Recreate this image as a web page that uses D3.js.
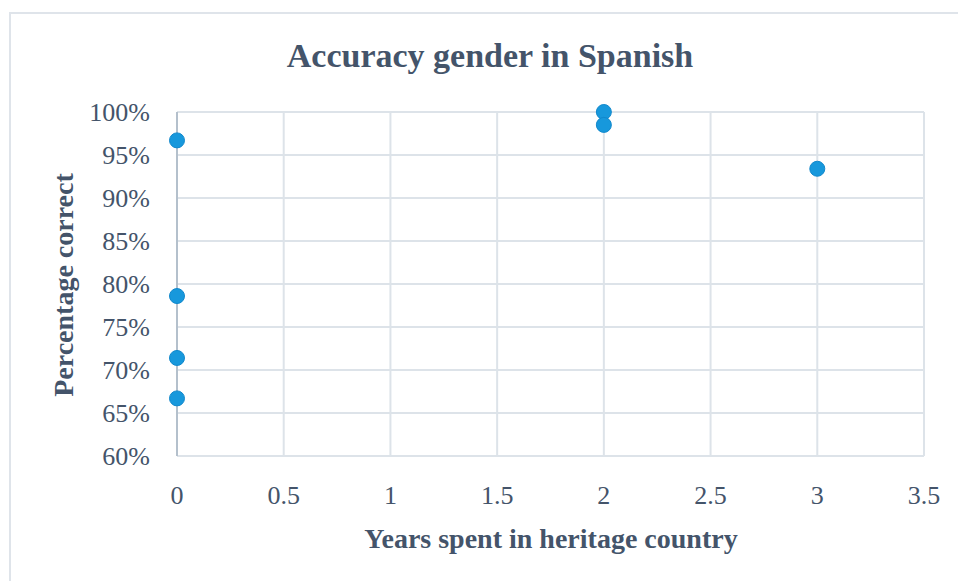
<!DOCTYPE html>
<html>
<head>
<meta charset="utf-8">
<script src="https://cdn.jsdelivr.net/npm/d3@7"></script>
<style>
  body { margin: 0; background: #fff; }
  text { font-family: "Palatino Linotype", "Book Antiqua", Palatino, "Liberation Serif", serif; fill: #44546a; }
</style>
</head>
<body>
<div class="canvas"></div>
<script>
// data
const years = [0, 0, 0, 0, 2, 2, 3];
const correct = [96.7, 78.6, 71.4, 66.7, 100, 98.5, 93.4];
const xTicks = [0, 0.5, 1, 1.5, 2, 2.5, 3, 3.5];
const yTicks = [60, 65, 70, 75, 80, 85, 90, 95, 100];

const width = 958, height = 581;
const margin = {top: 112, right: 34, bottom: 125, left: 177};

const svg = d3.select(".canvas")
              .append("svg")
              .attr("width", width)
              .attr("height", height);

// chart frame (only top and left edges fall inside the picture)
svg.append("rect")
   .attr("x", 10).attr("y", 13)
   .attr("width", 960).attr("height", 580)
   .attr("fill", "#fff")
   .attr("stroke", "#dfe4ea")
   .attr("stroke-width", 2);

const x = d3.scaleLinear()
            .domain([0, 3.5])
            .range([margin.left, width - margin.right]);

const y = d3.scaleLinear()
            .domain([60, 100])
            .range([height - margin.bottom, margin.top]);

// gridlines
svg.append("g")
   .selectAll("line.h")
   .data(yTicks)
   .enter()
   .append("line")
   .attr("x1", x(0)).attr("x2", x(3.5))
   .attr("y1", d => y(d)).attr("y2", d => y(d))
   .attr("stroke", "#dde3e9").attr("stroke-width", 2);

svg.append("g")
   .selectAll("line.v")
   .data(xTicks.slice(1))
   .enter()
   .append("line")
   .attr("x1", d => x(d)).attr("x2", d => x(d))
   .attr("y1", y(60)).attr("y2", y(100))
   .attr("stroke", "#dde3e9").attr("stroke-width", 2);

// vertical axis line at x = 0
svg.append("line")
   .attr("x1", x(0)).attr("x2", x(0))
   .attr("y1", y(60)).attr("y2", y(100))
   .attr("stroke", "#b4c0cc").attr("stroke-width", 2);

// tick labels
svg.append("g")
   .selectAll("text")
   .data(yTicks)
   .enter()
   .append("text")
   .attr("x", 150)
   .attr("y", d => y(d))
   .attr("dy", "0.35em")
   .attr("text-anchor", "end")
   .style("font-size", "26px")
   .text(d => d + "%");

svg.append("g")
   .selectAll("text")
   .data(xTicks)
   .enter()
   .append("text")
   .attr("x", d => x(d))
   .attr("y", 504)
   .attr("text-anchor", "middle")
   .style("font-size", "26px")
   .text(d => d);

// titles
svg.append("text")
   .attr("x", 490).attr("y", 67)
   .attr("text-anchor", "middle")
   .style("font-size", "34px").style("font-weight", "bold")
   .text("Accuracy gender in Spanish");

svg.append("text")
   .attr("x", 551).attr("y", 548)
   .attr("text-anchor", "middle")
   .style("font-size", "28px").style("font-weight", "bold")
   .text("Years spent in heritage country");

svg.append("text")
   .attr("transform", "translate(73,285) rotate(-90)")
   .attr("text-anchor", "middle")
   .style("font-size", "28px").style("font-weight", "bold")
   .text("Percentage correct");

// points
svg.append("g")
   .selectAll("circle")
   .data(years.map((d, i) => ({yr: d, pct: correct[i]})))
   .enter()
   .append("circle")
   .attr("cx", d => x(d.yr))
   .attr("cy", d => y(d.pct))
   .attr("r", 7.5)
   .attr("fill", "#1798dc")
   .attr("stroke", "#1188cc")
   .attr("stroke-width", 1);
</script>
</body>
</html>
